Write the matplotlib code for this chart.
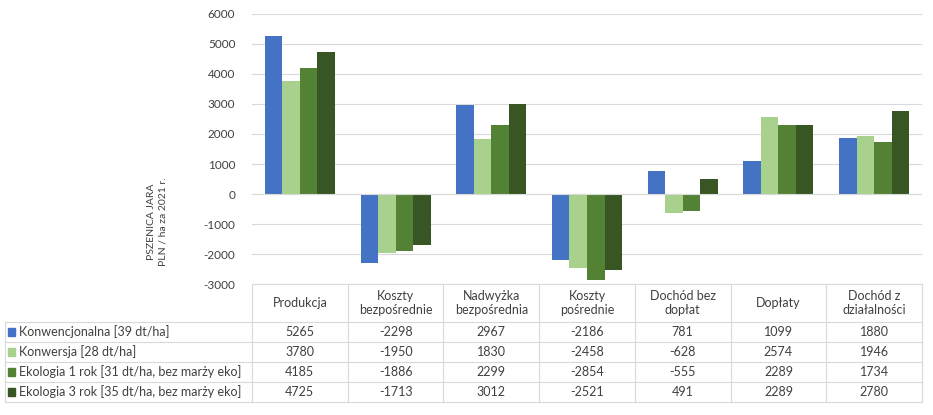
import numpy as np
import matplotlib.pyplot as plt
from matplotlib.patches import Rectangle

plt.rcParams['font.family'] = ['Lato', 'DejaVu Sans']

# data
categories = ["Produkcja", "Koszty\nbezpośrednie", "Nadwyżka\nbezpośrednia", "Koszty\npośrednie",
              "Dochód bez\ndopłat", "Dopłaty", "Dochód z\ndziałalności"]
series_names = ["Konwencjonalna [39 dt/ha]", "Konwersja [28 dt/ha]",
                "Ekologia 1 rok [31 dt/ha, bez marży eko]", "Ekologia 3 rok [35 dt/ha, bez marży eko]"]
konwencjonalna = [5265, -2298, 2967, -2186, 781, 1099, 1880]
konwersja = [3780, -1950, 1830, -2458, -628, 2574, 1946]
eko1 = [4185, -1886, 2299, -2854, -555, 2289, 1734]
eko3 = [4725, -1713, 3012, -2521, 491, 2289, 2780]
colors = ["#4472C4", "#A9D18E", "#548235", "#375623"]
yticks = [-3000, -2000, -1000, 0, 1000, 2000, 3000, 4000, 5000, 6000]

series = [konwencjonalna, konwersja, eko1, eko3]

W, H = 933, 415
fig = plt.figure(figsize=(W / 100, H / 100), dpi=100)

# pixel helper -> figure fraction
def fx(px):
    return px / W

def fy(py):
    return 1 - py / H

x0, x1 = 252, 922
top, bot = 14, 284
ax = fig.add_axes([fx(x0), fy(bot), fx(x1) - fx(x0), fy(top) - fy(bot)])

n = len(categories)
x = np.arange(n)
bw = 0.183
for i, (vals, c) in enumerate(zip(series, colors)):
    ax.bar(x + (i - 1.5) * bw, vals, width=bw, color=c, zorder=3)

ax.set_xlim(-0.5, n - 0.5)
ax.set_ylim(-3000, 6000)
ax.set_yticks(yticks)
ax.set_yticklabels([str(t) for t in yticks], fontsize=8.5, color="#404040")
ax.set_xticks([])
ax.grid(axis="y", color="#D9D9D9", linewidth=0.8, zorder=0)
ax.axhline(0, color="#D9D9D9", linewidth=0.8, zorder=4)
for s in ax.spines.values():
    s.set_visible(False)
ax.tick_params(axis="y", length=0, pad=12)

fig.text(fx(157), fy(222), "PSZENICA JARA\nPLN / ha za 2021 r.", rotation=90,
         ha="center", va="center", fontsize=7.5, color="#404040", linespacing=1.3)

# data table
line_c = "#D9D9D9"
col_x = np.linspace(x0, x1, n + 1)
row_y = [322, 342, 362, 382, 402]
lw = 0.8

def hline(py, a, b):
    fig.add_artist(plt.Line2D([fx(a), fx(b)], [fy(py), fy(py)], color=line_c, lw=lw))

def vline(px, a, b):
    fig.add_artist(plt.Line2D([fx(px), fx(px)], [fy(a), fy(b)], color=line_c, lw=lw))

hline(bot, x0, x1)
for ry in row_y:
    hline(ry, 5, x1)
for cx in col_x:
    vline(cx, bot, row_y[-1])
vline(5, row_y[0], row_y[-1])

for j, cat in enumerate(categories):
    cx = (col_x[j] + col_x[j + 1]) / 2
    fig.text(fx(cx), fy((bot + row_y[0]) / 2), cat, ha="center", va="center",
             fontsize=9, color="#404040", linespacing=1.25)

for i, (name, vals, c) in enumerate(zip(series_names, series, colors)):
    cy = (row_y[i] + row_y[i + 1]) / 2
    fig.add_artist(Rectangle((fx(8), fy(cy + 4)), fx(7), fy(cy - 4) - fy(cy + 4),
                             color=c, transform=fig.transFigure))
    fig.text(fx(19), fy(cy), name, ha="left", va="center", fontsize=9, color="#404040")
    for j, v in enumerate(vals):
        cx = (col_x[j] + col_x[j + 1]) / 2
        fig.text(fx(cx), fy(cy), str(v), ha="center", va="center", fontsize=9, color="#404040")

fig.savefig("out.png", dpi=100, facecolor="white")
